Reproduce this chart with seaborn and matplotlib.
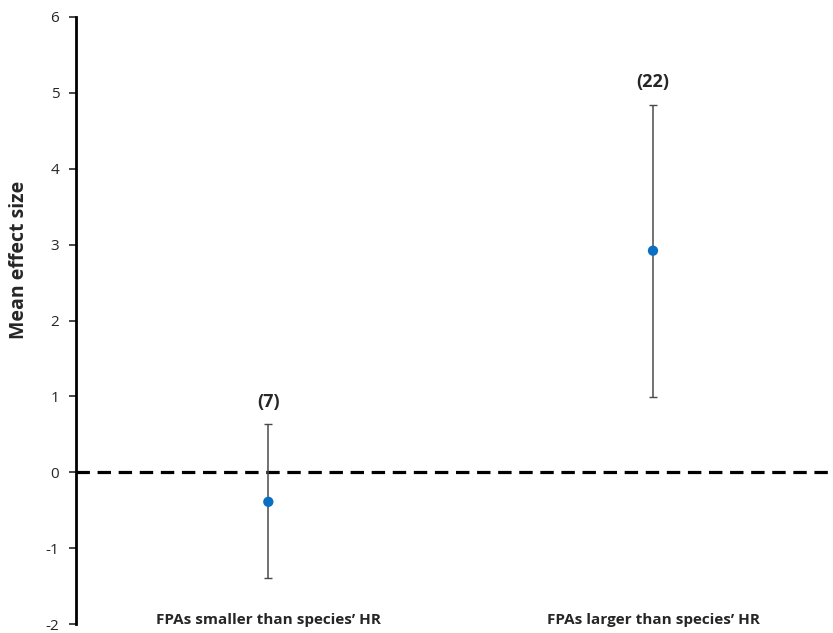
import pandas as pd
import matplotlib
matplotlib.use("Agg")
import matplotlib.pyplot as plt
import seaborn as sns

# Data
groups = ["FPAs smaller than species\u2019 HR", "FPAs larger than species\u2019 HR"]
mean_effect = [-0.39, 2.92]
ci_low = [-1.40, 0.99]
ci_high = [0.63, 4.84]
n_studies = ["(7)", "(22)"]

df = pd.DataFrame({"group": groups, "mean": mean_effect, "low": ci_low, "high": ci_high})

sns.set_style("white")
plt.rcParams["font.family"] = ["Open Sans", "DejaVu Sans"]
plt.rcParams["axes.unicode_minus"] = False

fig = plt.figure(figsize=(8.33, 6.33), dpi=100)
ax = fig.add_axes([76 / 833, 1 - 624 / 633, 757 / 833, 607 / 633])

# error bars (CI)
ax.errorbar(df["group"], df["mean"],
            yerr=[df["mean"] - df["low"], df["high"] - df["mean"]],
            fmt="none", ecolor="#4a4a4a", elinewidth=1.1, capsize=3, capthick=1.0, zorder=2)
sns.scatterplot(data=df, x="group", y="mean", ax=ax, color="#0A6FC2", s=55,
                edgecolor="none", zorder=3, legend=False)

# sample sizes above bars
for i, lab in enumerate(n_studies):
    ax.text(i, df["high"][i] + 0.18, lab, ha="center", va="bottom",
            fontsize=13, fontweight="bold")

ax.axhline(0, color="black", lw=2.3, ls=(0, (4.2, 2.4)), zorder=1)

ax.set_ylim(-2, 6)
ax.set_xlim(-0.5, 1.468)
ax.set_yticks(range(-2, 7))
ax.tick_params(axis="y", direction="out", length=5, width=1.2, labelsize=11,
               left=True, pad=7)
ax.tick_params(axis="x", length=0, labelsize=11, pad=-8)
for t in ax.get_xticklabels():
    t.set_fontweight("bold")

for s in ["top", "right", "bottom"]:
    ax.spines[s].set_visible(False)
ax.spines["left"].set_linewidth(2)
ax.spines["left"].set_color("black")

ax.set_xlabel("")
ax.set_ylabel("Mean effect size", fontsize=14, fontweight="bold")
ax.yaxis.set_label_coords(-0.062, 0.60)

fig.savefig("out.png", dpi=100)
